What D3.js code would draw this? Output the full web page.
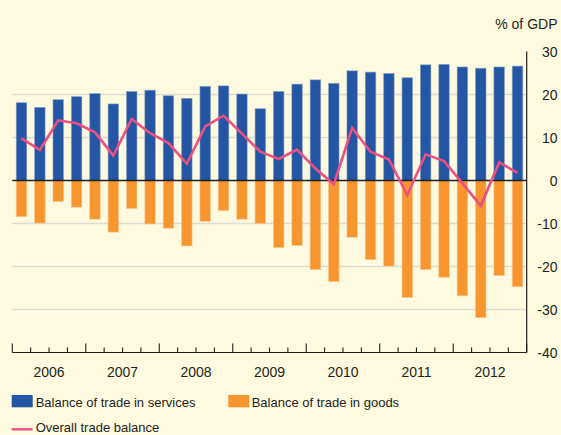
<!DOCTYPE html>
<html>
<head>
<meta charset="utf-8">
<script src="https://cdn.jsdelivr.net/npm/d3@7"></script>
<style>
  html, body { margin: 0; padding: 0; background: #FEFADF; }
  svg { display: block; }
  text { font-family: "Liberation Sans", Arial, Helvetica, sans-serif; fill: #231F20; }
</style>
</head>
<body>
<svg id="chart" width="561" height="435"></svg>
<script>
const years = ["2006", "2007", "2008", "2009", "2010", "2011", "2012"];
const quarters = [];
years.forEach(y => ["Q1", "Q2", "Q3", "Q4"].forEach(q => quarters.push(y + " " + q)));

const services = [18.1, 17.0, 18.8, 19.5, 20.2, 17.8, 20.7, 21.0, 19.7, 19.1, 21.9, 22.0, 20.1, 16.7,
                  20.7, 22.4, 23.4, 22.6, 25.5, 25.2, 24.9, 23.9, 26.9, 27.0, 26.4, 26.1, 26.4, 26.6];
const goods = [-8.4, -9.9, -4.9, -6.2, -9.0, -12.0, -6.5, -10.1, -11.1, -15.2, -9.5, -7.0, -9.0, -10.0,
               -15.6, -15.1, -20.7, -23.5, -13.2, -18.4, -19.9, -27.2, -20.7, -22.5, -26.8, -31.9, -22.1, -24.7];
const overall = [9.8, 7.1, 14.0, 13.3, 11.2, 5.8, 14.3, 11.0, 8.7, 3.9, 12.6, 15.1, 10.9, 6.7,
                 5.0, 7.2, 2.8, -0.85, 12.2, 6.7, 4.9, -3.4, 6.1, 4.5, -0.6, -5.9, 4.2, 1.8];
const yTicks = [30, 20, 10, 0, -10, -20, -30, -40];
const gridTicks = [20, 10, -10, -20, -30];

const svg = d3.select("#chart");
const pLeft = 12.3, pRight = 526.7, pTop = 51.5, pBottom = 352.5;

const x = d3.scaleBand().domain(quarters).range([pLeft, pRight]).paddingInner(0.43).paddingOuter(0.215);
const xYear = d3.scaleBand().domain(years).range([pLeft, pRight]);
const y = d3.scaleLinear().domain([-40, 30]).range([pBottom, pTop]);

// gridlines
svg.append("g").selectAll("line").data(gridTicks).join("line")
  .attr("x1", pLeft).attr("x2", pRight)
  .attr("y1", d => y(d)).attr("y2", d => y(d))
  .attr("stroke", "#DEDBD0").attr("stroke-width", 1.5);

// services bars
svg.append("g").selectAll("rect").data(services).join("rect")
  .attr("x", (d, i) => x(quarters[i]))
  .attr("width", x.bandwidth())
  .attr("y", d => y(d))
  .attr("height", d => y(0) - y(d))
  .attr("fill", "#2456A4")
  .attr("stroke", "#7F9CCB").attr("stroke-width", 0.8).attr("stroke-opacity", 0.7);

// goods bars
svg.append("g").selectAll("rect").data(goods).join("rect")
  .attr("x", (d, i) => x(quarters[i]))
  .attr("width", x.bandwidth())
  .attr("y", y(0))
  .attr("height", d => y(d) - y(0))
  .attr("fill", "#F7962F")
  .attr("stroke", "#FBC48A").attr("stroke-width", 0.8).attr("stroke-opacity", 0.7);

// zero line
svg.append("line")
  .attr("x1", pLeft).attr("x2", pRight)
  .attr("y1", y(0)).attr("y2", y(0))
  .attr("stroke", "#231F20").attr("stroke-width", 1.3);

// overall line
const line = d3.line()
  .x((d, i) => x(quarters[i]) + x.bandwidth() / 2)
  .y(d => y(d));
svg.append("path").datum(overall)
  .attr("d", line)
  .attr("fill", "none")
  .attr("stroke", "#EC4F81")
  .attr("stroke-width", 2.6)
  .attr("stroke-linejoin", "miter");

// bottom axis line & ticks
svg.append("line")
  .attr("x1", pLeft).attr("x2", pRight)
  .attr("y1", pBottom).attr("y2", pBottom)
  .attr("stroke", "#231F20").attr("stroke-width", 1.2);
const step = x.step();
const tickIdx = d3.range(0, 29);
svg.append("g").selectAll("line").data(tickIdx).join("line")
  .attr("x1", i => pLeft + i * step).attr("x2", i => pLeft + i * step)
  .attr("y1", pBottom).attr("y2", i => pBottom - (i % 4 === 0 ? 9 : 5))
  .attr("stroke", "#231F20").attr("stroke-width", 1.1);

// right axis line
svg.append("line")
  .attr("x1", pRight).attr("x2", pRight)
  .attr("y1", pTop).attr("y2", pBottom)
  .attr("stroke", "#231F20").attr("stroke-width", 1.2);

// right tick labels
svg.append("g").selectAll("text").data(yTicks).join("text")
  .attr("x", 557.5)
  .attr("y", d => y(d) + 5)
  .attr("text-anchor", "end")
  .style("font-size", "14px")
  .text(d => d);

svg.append("text")
  .attr("x", 557.5).attr("y", 28.5)
  .attr("text-anchor", "end")
  .style("font-size", "14px")
  .text("% of GDP");

// year labels
svg.append("g").selectAll("text").data(years).join("text")
  .attr("x", d => xYear(d) + xYear.bandwidth() / 2)
  .attr("y", 377)
  .attr("text-anchor", "middle")
  .style("font-size", "14px")
  .text(d => d);

// legend
const lg = svg.append("g");
lg.append("rect").attr("x", 11.7).attr("y", 395).attr("width", 21).attr("height", 12.3).attr("fill", "#2456A4");
lg.append("text").attr("x", 35.7).attr("y", 406.5).style("font-size", "13px").text("Balance of trade in services");
lg.append("rect").attr("x", 228.3).attr("y", 395).attr("width", 21).attr("height", 12.3).attr("fill", "#F7962F");
lg.append("text").attr("x", 251.7).attr("y", 406.5).style("font-size", "13px").text("Balance of trade in goods");
lg.append("line").attr("x1", 11.7).attr("x2", 32.5).attr("y1", 429.3).attr("y2", 429.3)
  .attr("stroke", "#EC4F81").attr("stroke-width", 2.4);
lg.append("text").attr("x", 35.7).attr("y", 431.5).style("font-size", "13px").text("Overall trade balance");
</script>
</body>
</html>
